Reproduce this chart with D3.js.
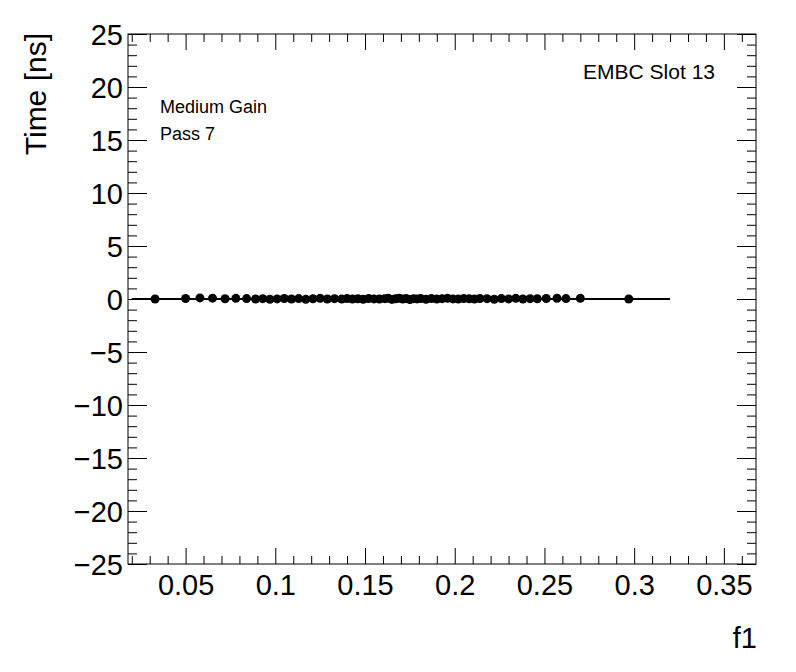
<!DOCTYPE html>
<html>
<head>
<meta charset="utf-8">
<script src="https://cdn.jsdelivr.net/npm/d3@7"></script>
<style>
  body { margin: 0; background: #fff; }
  svg { font-family: "Liberation Sans", Arial, sans-serif; }
</style>
</head>
<body>
<div id="chart"></div>
<script>
// data
const f1Values = [
  0.033, 0.050, 0.058, 0.065, 0.072, 0.078, 0.084, 0.089,
  0.093, 0.097, 0.101, 0.105, 0.109, 0.113, 0.117, 0.121, 0.125, 0.129,
  0.133, 0.137, 0.140, 0.143, 0.146, 0.149, 0.152, 0.155, 0.158, 0.161,
  0.163, 0.165, 0.167, 0.169, 0.171, 0.173, 0.175, 0.177, 0.179, 0.181,
  0.184, 0.187, 0.190, 0.193, 0.196, 0.199, 0.202, 0.205, 0.208, 0.211,
  0.214, 0.218, 0.222, 0.226, 0.230, 0.234, 0.238, 0.242, 0.246, 0.251,
  0.257, 0.262, 0.270, 0.297
];
const timeValues = [
  0.00, 0.05, 0.10, 0.08, 0.02, 0.06, 0.04, 0.00,
  0.03, -0.02, 0.01, 0.05, 0.00, 0.04, -0.03, 0.02, 0.06, 0.00,
  0.03, -0.01, 0.04, 0.00, 0.02, -0.02, 0.05, 0.01, 0.00, 0.03,
  0.06, -0.04, 0.02, 0.07, 0.00, 0.04, -0.05, 0.03, 0.01, 0.05,
  -0.02, 0.04, 0.00, 0.03, 0.06, 0.01, -0.01, 0.04, 0.02, 0.00,
  0.05, 0.03, -0.02, 0.04, 0.01, 0.06, 0.00, 0.03, 0.02, 0.05,
  0.07, 0.04, 0.06, 0.00
];
const fitRange = [0.02, 0.32];
const fitValue = 0.0;
const xDomain = [0.0179, 0.3679];
const yDomain = [-25, 25];
const xTicks = [0.05, 0.1, 0.15, 0.2, 0.25, 0.3, 0.35];
const yTicks = [-25, -20, -15, -10, -5, 0, 5, 10, 15, 20, 25];
const labels = ["Medium Gain", "Pass 7"];
const slotLabel = "EMBC Slot 13";

const width = 796, height = 672;
const margin = { top: 34, right: 40, bottom: 108, left: 128 };
const innerW = width - margin.left - margin.right;
const innerH = height - margin.top - margin.bottom;

const svg = d3.select("#chart").append("svg")
  .attr("width", width)
  .attr("height", height);
const g = svg.append("g")
  .attr("transform", `translate(${margin.left},${margin.top})`);

const scaleX = d3.scaleLinear().domain(xDomain).range([0, innerW]);
const scaleY = d3.scaleLinear().domain(yDomain).range([innerH, 0]);

const minorX = d3.range(0.02, 0.3681, 0.01).map(v => +v.toFixed(3))
  .filter(v => !xTicks.some(t => Math.abs(t - v) < 1e-6));
const minorY = d3.range(-25, 26, 1).filter(v => v % 5 !== 0);

const fmtX = d => String(d);
const fmtY = d => (d < 0 ? "\u2212" + Math.abs(d) : String(d));

// axes: bottom/left with labels, top/right mirrored ticks
function styleAxis(sel) {
  sel.select(".domain").remove();
  sel.selectAll(".tick line").attr("stroke", "#000").attr("stroke-width", 1);
  sel.selectAll(".tick text")
    .attr("font-size", 29).attr("fill", "#000")
    .attr("font-family", "Liberation Sans, Arial, sans-serif");
}

g.append("g").attr("transform", `translate(0,${innerH})`)
  .call(d3.axisBottom(scaleX).tickValues(xTicks).tickSize(-16).tickPadding(10).tickFormat(fmtX))
  .call(styleAxis);
g.append("g").attr("transform", `translate(0,${innerH})`)
  .call(d3.axisBottom(scaleX).tickValues(minorX).tickSize(-8).tickFormat(""))
  .call(styleAxis);
g.append("g")
  .call(d3.axisTop(scaleX).tickValues(xTicks).tickSize(-16).tickFormat(""))
  .call(styleAxis);
g.append("g")
  .call(d3.axisTop(scaleX).tickValues(minorX).tickSize(-8).tickFormat(""))
  .call(styleAxis);

g.append("g")
  .call(d3.axisLeft(scaleY).tickValues(yTicks).tickSize(-19).tickPadding(5).tickFormat(fmtY))
  .call(styleAxis)
  .call(a => a.selectAll(".tick text").attr("dy", "0.36em"));
g.append("g")
  .call(d3.axisLeft(scaleY).tickValues(minorY).tickSize(-9).tickFormat(""))
  .call(styleAxis);
g.append("g").attr("transform", `translate(${innerW},0)`)
  .call(d3.axisRight(scaleY).tickValues(yTicks).tickSize(-19).tickFormat(""))
  .call(styleAxis);
g.append("g").attr("transform", `translate(${innerW},0)`)
  .call(d3.axisRight(scaleY).tickValues(minorY).tickSize(-9).tickFormat(""))
  .call(styleAxis);

// frame
g.append("rect")
  .attr("x", 0).attr("y", 0)
  .attr("width", innerW).attr("height", innerH)
  .attr("fill", "none").attr("stroke", "#000").attr("stroke-width", 1);

// fit line
g.append("line")
  .attr("x1", scaleX(fitRange[0])).attr("x2", scaleX(fitRange[1]))
  .attr("y1", scaleY(fitValue)).attr("y2", scaleY(fitValue))
  .attr("stroke", "#000").attr("stroke-width", 2);

// points
const points = f1Values.map((x, i) => ({ x, y: timeValues[i] }));
g.append("g").selectAll("circle")
  .data(points)
  .join("circle")
  .attr("cx", d => scaleX(d.x))
  .attr("cy", d => scaleY(d.y))
  .attr("r", 4.5)
  .attr("fill", "#000");

// labels inside the frame
g.append("text")
  .attr("x", 32).attr("y", 79)
  .attr("font-size", 18).attr("fill", "#000")
  .text(labels[0]);
g.append("text")
  .attr("x", 32).attr("y", 106)
  .attr("font-size", 18).attr("fill", "#000")
  .text(labels[1]);
g.append("text")
  .attr("x", 587).attr("y", 45)
  .attr("text-anchor", "end")
  .attr("font-size", 21).attr("fill", "#000")
  .text(slotLabel);

// axis titles
svg.append("text")
  .attr("transform", `translate(46,33) rotate(-90)`)
  .attr("text-anchor", "end")
  .attr("font-size", 30).attr("fill", "#000")
  .text("Time [ns]");
svg.append("text")
  .attr("x", 757).attr("y", 648)
  .attr("text-anchor", "end")
  .attr("font-size", 29).attr("fill", "#000")
  .text("f1");
</script>
</body>
</html>
